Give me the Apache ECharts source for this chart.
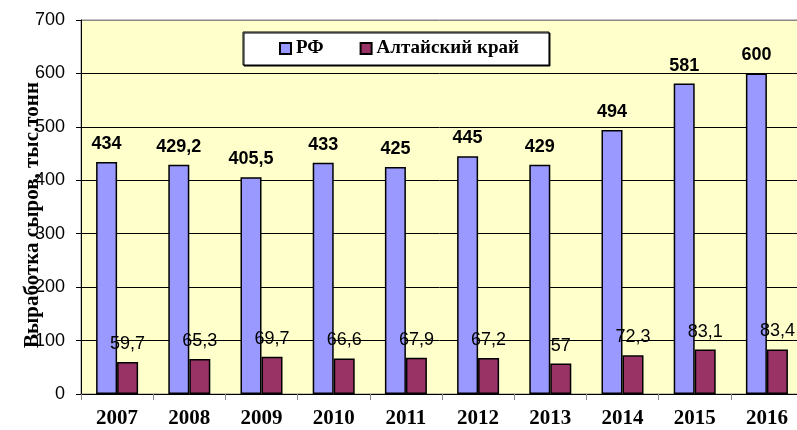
<!DOCTYPE html>
<html>
<head>
<meta charset="utf-8">
<script src="https://cdn.jsdelivr.net/npm/echarts@6/dist/echarts.min.js"></script>
<style>html,body{margin:0;padding:0;background:#fff}#c{width:797px;height:430px}</style>
</head>
<body>
<div id="c"></div>
<script>
const years = ['2007','2008','2009','2010','2011','2012','2013','2014','2015','2016'];
const rfValues = [434, 429.2, 405.5, 433, 425, 445, 429, 494, 581, 600];
const altaiValues = [59.7, 65.3, 69.7, 66.6, 67.9, 67.2, 57, 72.3, 83.1, 83.4];
const seriesNames = ['РФ', 'Алтайский край'];
const yAxisName = 'Выработка сыров, тыс.тонн';

const fmt = p => String(p.value).replace('.', ',');
const chart = echarts.init(document.getElementById('c'), null, {renderer: 'canvas'});
chart.setOption({
  animation: false,
  backgroundColor: '#ffffff',
  grid: {left: 81, top: 20, width: 722, height: 374, containLabel: false, outerBoundsMode: 'none',
    show: true, backgroundColor: '#FFFFCC', borderColor: '#888888', borderWidth: 1},
  legend: {
    left: 243, top: 32,
    padding: [7, 30, 7, 36],
    backgroundColor: '#ffffff', borderColor: '#000000', borderWidth: 1,
    shadowColor: '#000000', shadowOffsetX: 1, shadowOffsetY: 1, shadowBlur: 0,
    itemWidth: 11, itemHeight: 11, itemGap: 36,
    icon: 'rect',
    textStyle: {fontFamily: 'Liberation Serif', fontWeight: 'bold', fontSize: 19, color: '#000'},
    data: seriesNames
  },
  xAxis: {
    type: 'category', data: years,
    axisLine: {lineStyle: {color: '#000', width: 1}},
    axisTick: {show: true, length: 6, lineStyle: {color: '#888'}},
    axisLabel: {fontFamily: 'Liberation Serif', fontWeight: 'bold', fontSize: 21, color: '#000', margin: 14}
  },
  yAxis: {
    type: 'value', min: 0, max: 700, interval: 100,
    name: yAxisName, nameLocation: 'middle', nameGap: 38, nameRotate: 90, nameMoveOverlap: false,
    nameTextStyle: {fontFamily: 'Liberation Serif', fontWeight: 'bold', fontSize: 21, color: '#000', padding: [0, 16, 0, 0]},
    axisLine: {show: true, lineStyle: {color: '#000'}},
    axisTick: {show: true, length: 5, lineStyle: {color: '#000'}},
    axisLabel: {fontFamily: 'Liberation Sans', fontSize: 18, color: '#000', margin: 16},
    splitLine: {show: true, lineStyle: {color: ['#000','#000','#000','#000','#000','#000','#000','#888'], width: 1}}
  },
  series: [
    {
      name: seriesNames[0], type: 'bar', data: rfValues,
      barWidth: 21, barGap: '0%',
      itemStyle: {color: '#9999FF', borderColor: '#000', borderWidth: 1.5},
      label: {show: true, position: 'top', distance: 9, formatter: fmt,
        fontFamily: 'Liberation Sans', fontWeight: 'bold', fontSize: 18, color: '#000'}
    },
    {
      name: seriesNames[1], type: 'bar', data: altaiValues,
      barWidth: 21,
      itemStyle: {color: '#993366', borderColor: '#000', borderWidth: 1.5},
      label: {show: true, position: 'top', distance: 9, formatter: fmt,
        fontFamily: 'Liberation Sans', fontSize: 18, color: '#000'}
    }
  ]
});
</script>
</body>
</html>
